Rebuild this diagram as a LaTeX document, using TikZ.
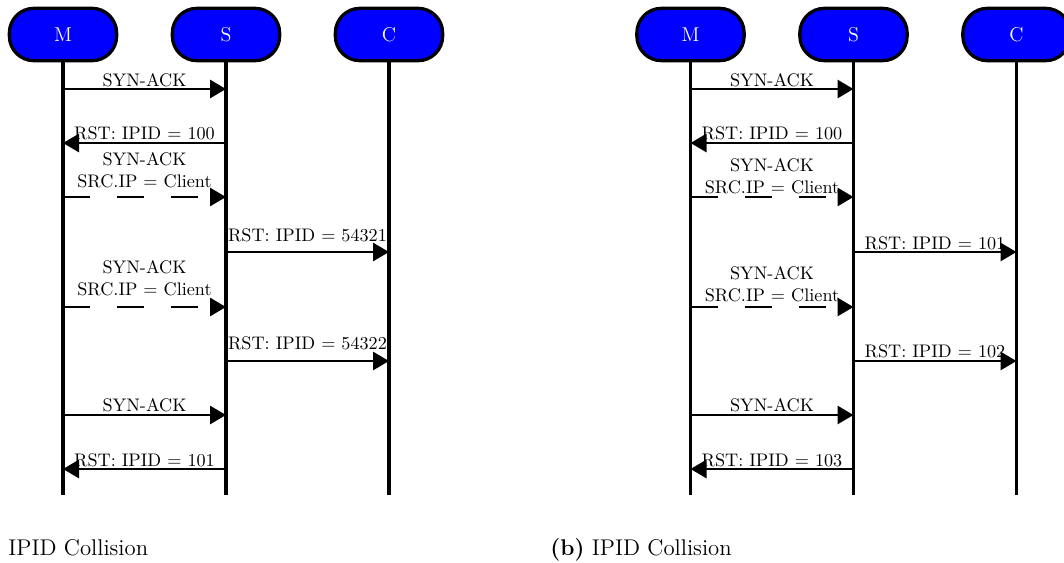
\documentclass[tikz,border=0pt]{standalone}
\usetikzlibrary{arrows.meta}
\begin{document}
\begin{tikzpicture}[x=0.55pt,y=-0.55pt,
  actor/.style={draw=black, fill=blue, line width=1.8pt, rounded corners=13.5pt,
    minimum width=59pt, minimum height=28.8pt, inner sep=0pt,
    text=white, font=\fontsize{11}{13}\selectfont},
  life/.style={line width=1.7pt},
  msg/.style={line width=1.6pt, -{Triangle[length=8.8pt,width=9.9pt]}},
  spoof/.style={msg, dash pattern=on 14.85pt off 14.85pt},
  lbl/.style={inner sep=0pt, anchor=base, font=\fontsize{10}{12}\selectfont},
  lbl2/.style={inner sep=0pt, anchor=south, align=center, font=\fontsize{10}{12}\selectfont},
  captext/.style={inner sep=0pt, anchor=base west, font=\fontsize{12.5}{15}\selectfont}]
\useasboundingbox (0,0) rectangle (1064,562);

% actors and lifelines for both panels
\foreach \p/\o in {l/0, r/627.5}{
  \node[actor] (\p M) at (63+\o,34.5) {M};
  \node[actor] (\p S) at (226+\o,34.5) {S};
  \node[actor] (\p C) at (389+\o,34.5) {C};
  \coordinate (\p Mend) at (63+\o,495);
  \coordinate (\p Send) at (226+\o,495);
  \coordinate (\p Cend) at (389+\o,495);
  \draw[life] (\p M.south) -- (\p Mend);
  \draw[life] (\p S.south) -- (\p Send);
  \draw[life] (\p C.south) -- (\p Cend);
  \foreach \n/\y in {1/89, 2/143, 3/197, 4/252, 5/307, 6/361, 7/415, 8/469}{
    \coordinate (\p M\n) at (63+\o,\y);
    \coordinate (\p S\n) at (226+\o,\y);
    \coordinate (\p C\n) at (389+\o,\y);
  }
}

% ---- left panel ----
\draw[msg]   (lM1) -- (lS1);
\node[lbl] (ll1) at (144.5,86) {SYN-ACK};
\draw[msg]   (lS2) -- (lM2);
\node[lbl] (ll2) at (144.5,139.7) {RST: IPID = 100};
\draw[spoof] (lM3) -- (lS3);
\node[lbl2] (ll3) at (144.5,188) {SYN-ACK\\SRC.IP = Client};
\draw[msg]   (lS4) -- (lC4);
\node[lbl] (ll4) at (307.5,241.5) {RST: IPID = 54321};
\draw[spoof] (lM5) -- (lS5);
\node[lbl2] (ll5) at (144.5,296) {SYN-ACK\\SRC.IP = Client};
\draw[msg]   (lS6) -- (lC6);
\node[lbl] (ll6) at (307.5,349.5) {RST: IPID = 54322};
\draw[msg]   (lM7) -- (lS7);
\node[lbl] (ll7) at (144.5,411.7) {SYN-ACK};
\draw[msg]   (lS8) -- (lM8);
\node[lbl] (ll8) at (144.5,466) {RST: IPID = 101};

% ---- right panel ----
\draw[msg]   (rM1) -- (rS1);
\node[lbl] (rl1) at (772,86) {SYN-ACK};
\draw[msg]   (rS2) -- (rM2);
\node[lbl] (rl2) at (772,139.7) {RST: IPID = 100};
\draw[spoof] (rM3) -- (rS3);
\node[lbl2] (rl3) at (772,194) {SYN-ACK\\SRC.IP = Client};
\draw[msg]   (rS4) -- (rC4);
\node[lbl] (rl4) at (935,249) {RST: IPID = 101};
\draw[spoof] (rM5) -- (rS5);
\node[lbl2] (rl5) at (772,302) {SYN-ACK\\SRC.IP = Client};
\draw[msg]   (rS6) -- (rC6);
\node[lbl] (rl6) at (935,357) {RST: IPID = 102};
\draw[msg]   (rM7) -- (rS7);
\node[lbl] (rl7) at (772,411.7) {SYN-ACK};
\draw[msg]   (rS8) -- (rM8);
\node[lbl] (rl8) at (772,466) {RST: IPID = 103};

% captions
\node[captext] (capl) at (8,555) {IPID Collision};
\node[captext] (capr) at (550,555) {\textbf{(b)} IPID Collision};
\end{tikzpicture}
\end{document}
